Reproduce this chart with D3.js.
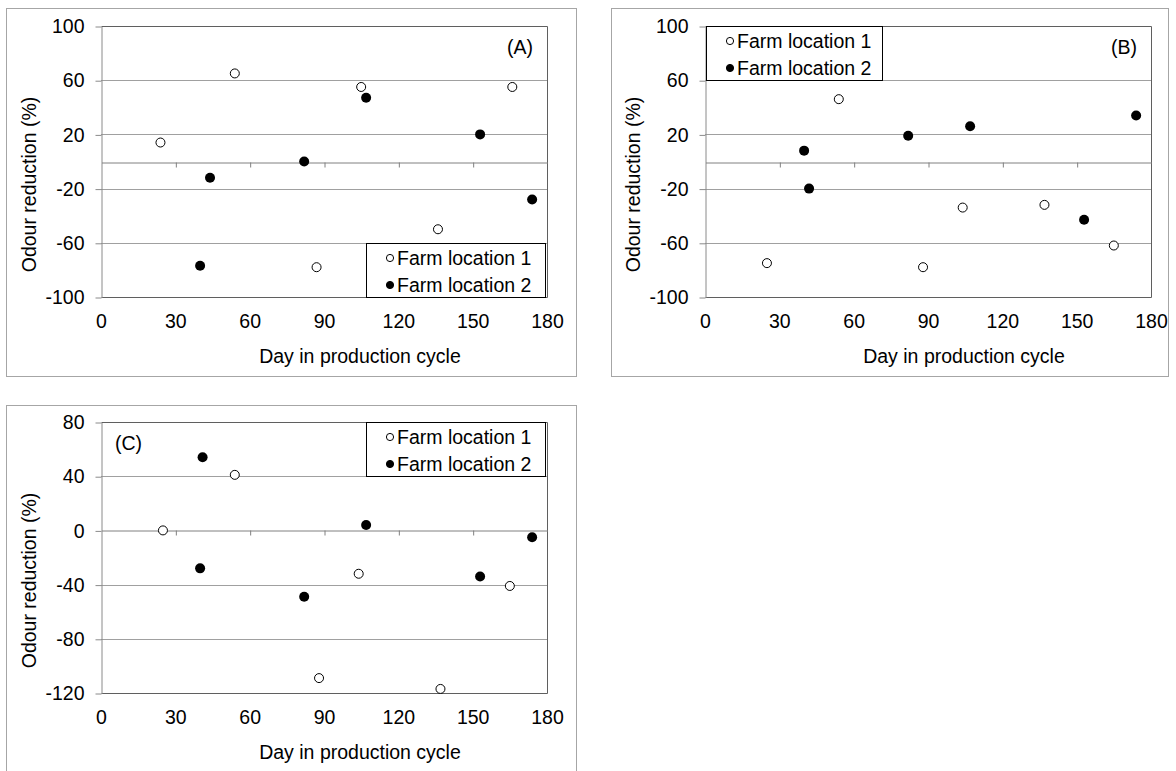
<!DOCTYPE html>
<html>
<head>
<meta charset="utf-8">
<script src="https://cdn.jsdelivr.net/npm/d3@7"></script>
<style>
body { margin: 0; background: #fff; }
text { font-family: "Liberation Sans", Arial, sans-serif; font-size: 19.5px; fill: #000; }
</style>
</head>
<body>
<svg></svg>
<script>
var width = 1176;
var height = 771;

// tick labels
var xTicks = [0, 30, 60, 90, 120, 150, 180];
var yTicksAB = [-100, -60, -20, 20, 60, 100];
var yTicksC = [-120, -80, -40, 0, 40, 80];
var seriesNames = ["Farm location 1", "Farm location 2"];

// panel A
var daysA1 = [24, 54, 87, 105, 136, 166];
var valsA1 = [14, 65, -78, 55, -50, 55];
var daysA2 = [40, 44, 82, 107, 153, 174];
var valsA2 = [-77, -12, 0, 47, 20, -28];

// panel B
var daysB1 = [25, 54, 88, 104, 137, 165];
var valsB1 = [-75, 46, -78, -34, -32, -62];
var daysB2 = [40, 42, 82, 107, 153, 174];
var valsB2 = [8, -20, 19, 26, -43, 34];

// panel C
var daysC1 = [25, 54, 88, 104, 137, 165];
var valsC1 = [0, 41, -109, -32, -117, -41];
var daysC2 = [41, 40, 82, 107, 153, 174];
var valsC2 = [54, -28, -49, 4, -34, -5];

var svg = d3.select('svg')
    .attr("width", width)
    .attr("height", height);

function zip(days, vals) {
    return days.map(function(d, i) { return {day: d, val: vals[i]}; });
}

// plain hyphen minus, like the original
function fmt(d) { return String(d); }

function drawPanel(p) {
    var g = svg.append('g');

    // outer chart frame
    g.append('rect')
        .attr("x", p.frame[0] + 0.5)
        .attr("y", p.frame[1] + 0.5)
        .attr("width", p.frame[2])
        .attr("height", p.frame[3])
        .attr("fill", 'white')
        .attr("stroke", '#a6a6a6')
        .attr("stroke-width", 1);

    var left = p.plot[0], top = p.plot[1], w = p.plot[2], h = p.plot[3];

    var x = d3.scaleLinear().domain([0, 180]).range([left, left + w]);
    var y = d3.scaleLinear().domain(p.yDomain).range([top + h, top]);

    // gridlines
    g.append('g').selectAll('line')
        .data(p.yTicks.filter(function(t) { return t !== 0 && t !== p.yDomain[0] && t !== p.yDomain[1]; }))
        .enter().append('line')
        .attr("x1", left)
        .attr("x2", left + w)
        .attr("y1", function(d) { return Math.round(y(d)) + 0.5; })
        .attr("y2", function(d) { return Math.round(y(d)) + 0.5; })
        .attr("stroke", '#a0a0a0')
        .attr("stroke-width", 1);

    // plot border (top, right, bottom)
    g.append('path')
        .attr("d", "M" + (left + 0.5) + "," + (top + 0.5) + "H" + (left + w + 0.5) +
              "V" + (top + h + 0.5) + "H" + (left + 0.5))
        .attr("fill", 'none')
        .attr("stroke", '#5f5f5f')
        .attr("stroke-width", 1);

    // y axis
    var yAxis = g.append('g')
        .attr("transform", "translate(" + (left + 0.5) + ",0.5)")
        .call(d3.axisLeft(y).tickValues(p.yTicks).tickFormat(fmt)
            .tickSize(6).tickSizeOuter(0).tickPadding(11));
    yAxis.select('.domain').attr("stroke", '#8a8a8a');
    yAxis.selectAll('.tick line').attr("stroke", '#8a8a8a');
    yAxis.selectAll('.tick text').attr("font-size", null).attr("font-family", null).attr("fill", '#000');

    // x axis line at zero with tick marks
    var xZero = g.append('g')
        .attr("transform", "translate(0.5," + (Math.round(y(0)) + 0.5) + ")")
        .call(d3.axisBottom(x).tickValues(xTicks.slice(1, -1)).tickSize(5).tickSizeOuter(0).tickFormat(''));
    xZero.select('.domain').attr("stroke", '#808080');
    xZero.selectAll('.tick line').attr("stroke", '#808080');

    // x tick labels at the bottom
    var xLab = g.append('g')
        .attr("transform", "translate(0," + (top + h) + ")")
        .call(d3.axisBottom(x).tickValues(xTicks).tickFormat(fmt).tickSize(0).tickPadding(17));
    xLab.select('.domain').remove();
    xLab.selectAll('.tick text').attr("font-size", null).attr("font-family", null).attr("fill", '#000');

    // axis titles
    g.append('text')
        .attr("x", left + 259)
        .attr("y", top + h + 66)
        .attr("text-anchor", 'middle')
        .text("Day in production cycle");

    g.append('text')
        .attr("transform", "translate(" + (left - 72) + "," + (top + h / 2 + 23) + ") rotate(-90)")
        .attr("text-anchor", 'middle')
        .attr("dy", '0.35em')
        .text("Odour reduction (%)");

    // panel label
    g.append('text')
        .attr("x", p.labelRight ? left + w - 14 : left + 14)
        .attr("y", top + 28)
        .attr("text-anchor", p.labelRight ? 'end' : 'start')
        .text(p.label);

    // points
    var pts = g.append('g');
    pts.selectAll('circle.f1')
        .data(zip(p.d1, p.v1))
        .enter().append('circle')
        .attr("class", 'f1')
        .attr("cx", function(d) { return x(d.day); })
        .attr("cy", function(d) { return y(d.val); })
        .attr("r", 4.5)
        .attr("fill", 'white')
        .attr("stroke", 'black')
        .attr("stroke-width", 1);
    pts.selectAll('circle.f2')
        .data(zip(p.d2, p.v2))
        .enter().append('circle')
        .attr("class", 'f2')
        .attr("cx", function(d) { return x(d.day); })
        .attr("cy", function(d) { return y(d.val); })
        .attr("r", 5)
        .attr("fill", 'black');

    // legend
    var lx = Math.round(x(p.legend[0])), ly = Math.round(y(p.legend[1]));
    var lw = p.legend[2], lh = p.legend[3];
    var lg = g.append('g');
    lg.append('rect')
        .attr("x", lx + 0.5)
        .attr("y", ly + 0.5)
        .attr("width", lw)
        .attr("height", lh)
        .attr("fill", 'white')
        .attr("stroke", 'black')
        .attr("stroke-width", 1);
    seriesNames.forEach(function(name, i) {
        var cy = ly + 15 + i * 27;
        lg.append('circle')
            .attr("cx", lx + 24)
            .attr("cy", cy)
            .attr("r", 3.6)
            .attr("fill", i === 0 ? 'white' : 'black')
            .attr("stroke", 'black')
            .attr("stroke-width", 1);
        lg.append('text')
            .attr("x", lx + 31)
            .attr("y", cy + 7)
            .text(name);
    });
}

drawPanel({
    label: "(A)", labelRight: true,
    frame: [6, 8, 570, 368], plot: [101, 26, 446, 271],
    yDomain: [-100, 100], yTicks: yTicksAB,
    legend: [107, -60, 179, 54],
    d1: daysA1, v1: valsA1, d2: daysA2, v2: valsA2
});

drawPanel({
    label: "(B)", labelRight: true,
    frame: [611, 8, 557, 368], plot: [705, 26, 446, 271],
    yDomain: [-100, 100], yTicks: yTicksAB,
    legend: [0.5, 100, 176, 54],
    d1: daysB1, v1: valsB1, d2: daysB2, v2: valsB2
});

drawPanel({
    label: "(C)", labelRight: false,
    frame: [6, 405, 570, 380], plot: [101, 422, 446, 271],
    yDomain: [-120, 80], yTicks: yTicksC,
    legend: [107, 80, 179, 54],
    d1: daysC1, v1: valsC1, d2: daysC2, v2: valsC2
});
</script>
</body>
</html>
